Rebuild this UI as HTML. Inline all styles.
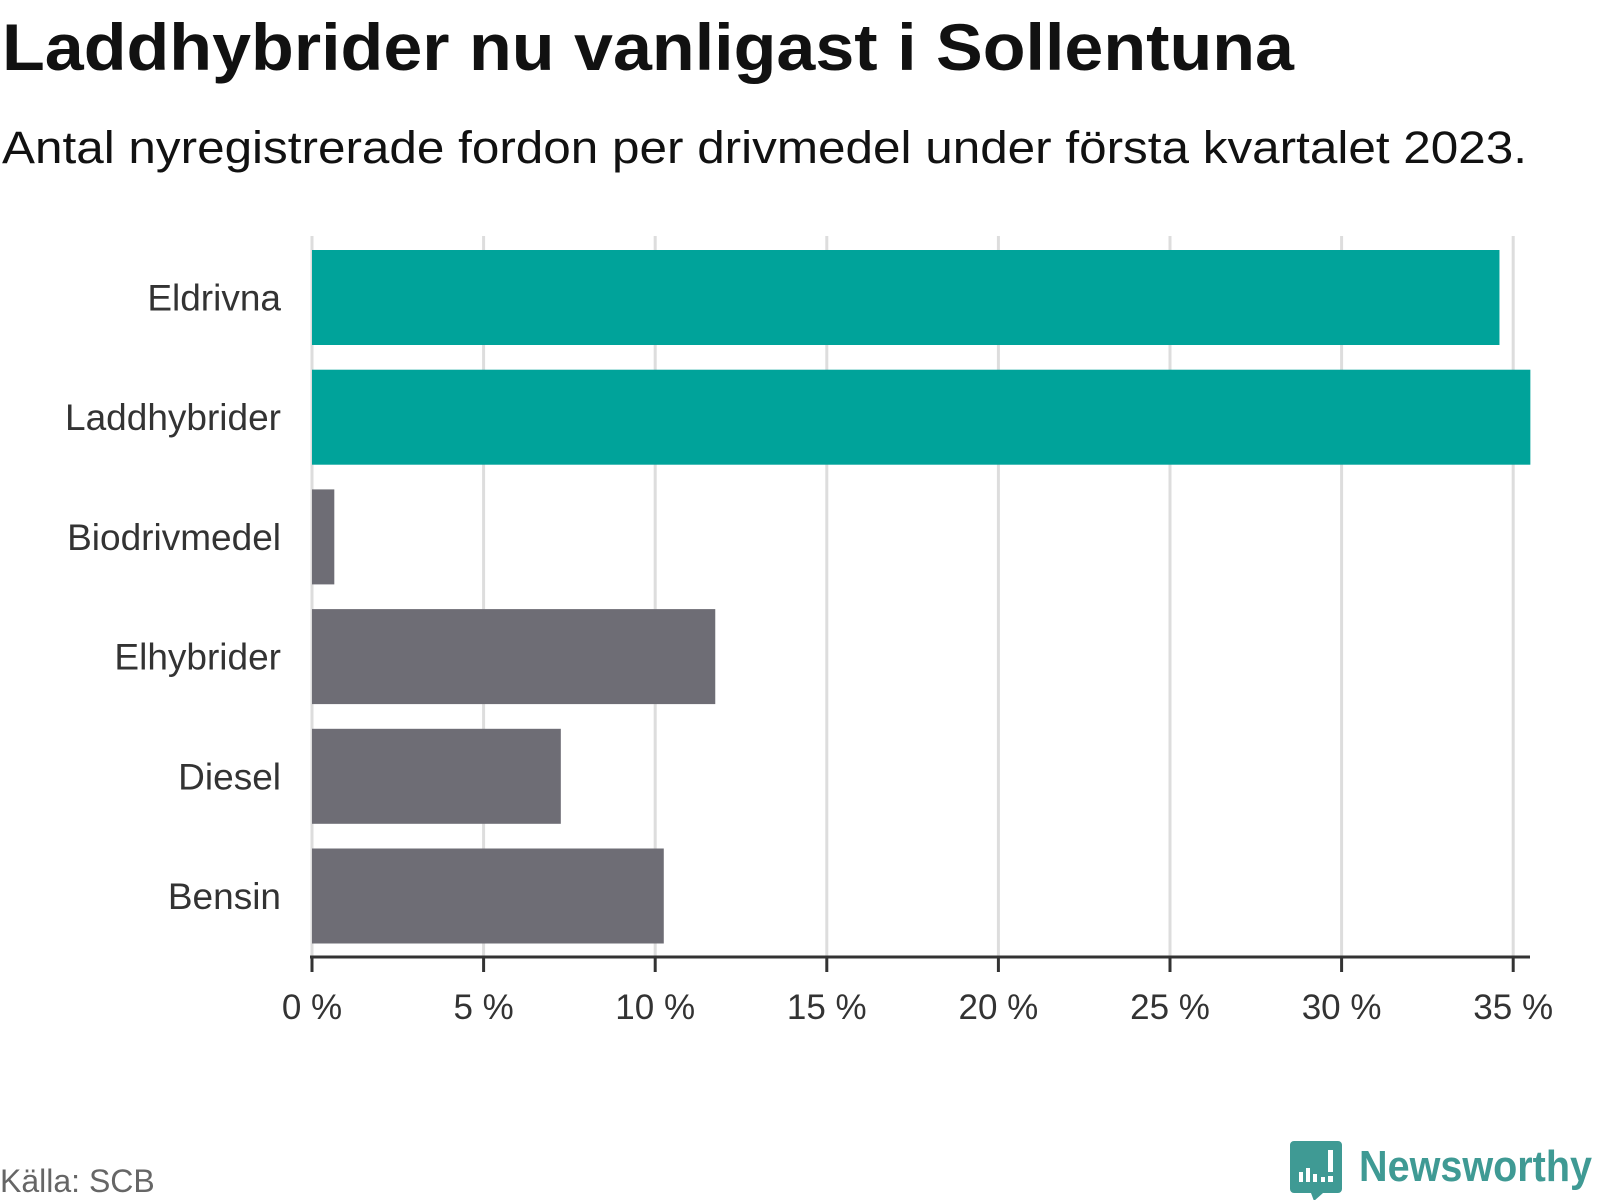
<!DOCTYPE html>
<html><head><meta charset="utf-8"><style>
html,body{margin:0;padding:0;background:#fff}
svg{display:block;font-family:"Liberation Sans","DejaVu Sans",sans-serif}
</style></head><body>
<svg id="chart" width="1600" height="1200" viewBox="0 0 1600 1200">
<text x="2" y="70" font-size="66" font-weight="bold" fill="#111" textLength="1292" lengthAdjust="spacingAndGlyphs">Laddhybrider nu vanligast i Sollentuna</text>
<text x="2" y="163" font-size="45" fill="#111" textLength="1525" lengthAdjust="spacingAndGlyphs">Antal nyregistrerade fordon per drivmedel under första kvartalet 2023.</text>
<g id="grid"></g><g id="bars"></g><g id="ylabels"></g><g id="xaxis"></g>
<text x="0" y="1192" font-size="32" fill="#666">Källa: SCB</text>
<g>
<path d="M1294 1141h44a4 4 0 0 1 4 4v44a4 4 0 0 1-4 4h-15l-9 8l-3-8h-17a4 4 0 0 1-4-4v-44a4 4 0 0 1 4-4z" fill="#3f9a94"/>
<rect x="1299" y="1172" width="4" height="10" fill="#fff"/><rect x="1306" y="1168" width="4" height="14" fill="#fff"/><rect x="1313" y="1174" width="4" height="8" fill="#fff"/><rect x="1321" y="1177" width="4" height="5" fill="#fff"/><rect x="1328" y="1150" width="5" height="22" fill="#fff"/><rect x="1328" y="1176" width="5" height="6" fill="#fff"/>
<text x="1359" y="1181" font-size="44" font-weight="bold" fill="#3f9a94" textLength="233" lengthAdjust="spacingAndGlyphs">Newsworthy</text>
</g>
</svg>
<script>
const categories=["Eldrivna","Laddhybrider","Biodrivmedel","Elhybrider","Diesel","Bensin"];
const values=[34.6,35.5,0.65,11.75,7.25,10.25];
const highlight=[true,true,false,false,false,false];
const ticks=[0,5,10,15,20,25,30,35];
const tickLabels=["0 %","5 %","10 %","15 %","20 %","25 %","30 %","35 %"];
const NS="http://www.w3.org/2000/svg";
const x0=312,pxPer=34.32,yTop=250,step=119.7,bh=95;
const xs=v=>x0+v*pxPer;
const yb=i=>yTop+i*step;
function mk(p,t,a){const e=document.createElementNS(NS,t);for(const k in a)e.setAttribute(k,a[k]);p.appendChild(e);return e;}
const grid=document.getElementById('grid'),bars=document.getElementById('bars'),yl=document.getElementById('ylabels'),xa=document.getElementById('xaxis');
ticks.forEach((t,i)=>{
 const g=mk(grid,'line',{x1:xs(t),x2:xs(t),y1:236,y2:957,stroke:'#ddd','stroke-width':3});
 
 
 const tk=mk(xa,'line',{x1:xs(t),x2:xs(t),y1:957,y2:972,stroke:'#333','stroke-width':3});
 
 
 const tl=mk(xa,'text',{x:xs(t),y:1019,'font-size':35,fill:'#333','text-anchor':'middle'});
 tl.textContent=tickLabels[i];
 
 
});
const ax=mk(xa,'line',{x1:x0-2,x2:1530,y1:957,y2:957,stroke:'#333','stroke-width':3});


categories.forEach((c,i)=>{
 const r=mk(bars,'rect',{x:x0,y:yb(i),width:xs(values[i])-x0,height:bh,fill:highlight[i]?'#00a39a':'#6e6d75'});
 
 
 const l=mk(yl,'text',{x:281,y:yb(i)+bh/2+13,'font-size':37,fill:'#333','text-anchor':'end'});
 l.textContent=c;
 
 
});
</script>
</body></html>
